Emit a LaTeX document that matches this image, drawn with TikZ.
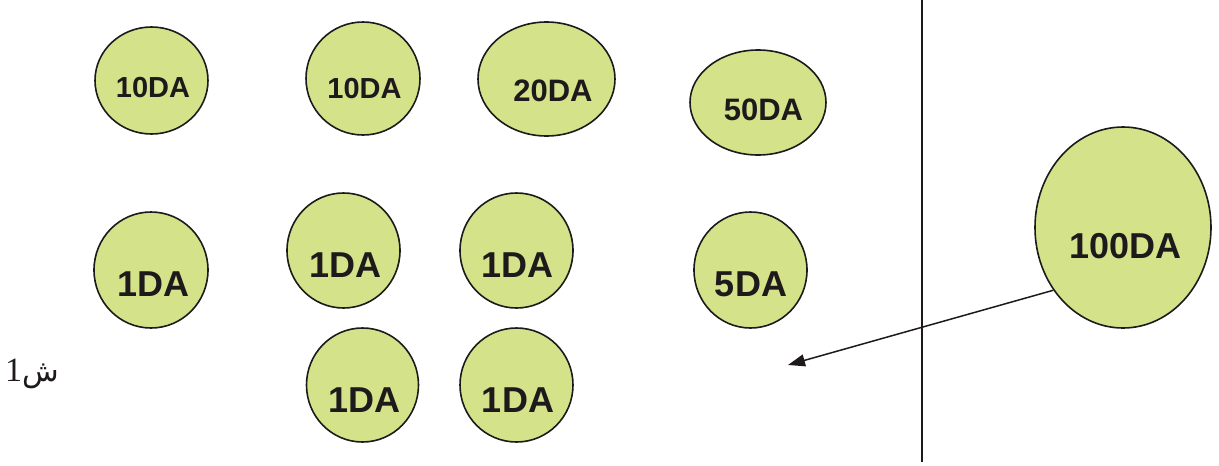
\documentclass[tikz,border=0pt]{standalone}
\usepackage{fontspec}
\usetikzlibrary{shapes.geometric,arrows.meta,calc}
\TeXXeTstate=1
\newfontfamily\coinfont{Liberation Sans}
\newfontfamily\arabicfont[Script=Arabic]{DejaVu Sans}
\newfontfamily\seriffont{Liberation Serif}
\definecolor{coinfill}{RGB}{212,226,138}
\definecolor{inkc}{RGB}{30,26,27}
\tikzset{
  coin/.style={ellipse, draw=inkc, line width=1.6pt, fill=coinfill, inner sep=0pt},
  val/.style={inner sep=0pt, text=inkc, font=\coinfont\bfseries\fontsize{#1}{#1}\selectfont},
  conn/.style={draw=inkc, line width=1.5pt},
  arrowc/.style={draw=inkc, line width=1.5pt, -{Triangle[length=17pt,width=12pt]}}
}
\begin{document}
\begin{tikzpicture}[x=1pt,y=-1pt]
\useasboundingbox (0,0) rectangle (1219,466);
% coins
\node[coin, minimum width=113pt, minimum height=107pt] (c1) at (151.5,80.5) {};
\node[val=29] (t1) at (153,88) {10DA};
\node[coin, minimum width=114pt, minimum height=113pt] (c2) at (363,78.5) {};
\node[val=29] (t2) at (364.5,88.5) {10DA};
\node[coin, minimum width=137pt, minimum height=114pt] (c3) at (546.5,79) {};
\node[val=31] (t3) at (553,91) {20DA};
\node[coin, minimum width=136pt, minimum height=105pt] (c4) at (758,102.5) {};
\node[val=31] (t4) at (763.5,109.5) {50DA};
\node[coin, minimum width=114pt, minimum height=116pt] (c5) at (151,270) {};
\node[val=36] (t5) at (153.5,284.5) {1DA};
\node[coin, minimum width=113pt, minimum height=115pt] (c6) at (343.5,250.5) {};
\node[val=36] (t6) at (345.5,265.5) {1DA};
\node[coin, minimum width=113pt, minimum height=115pt] (c7) at (516.5,250.5) {};
\node[val=36] (t7) at (517.5,265.5) {1DA};
\node[coin, minimum width=113pt, minimum height=116pt] (c8) at (750.5,270) {};
\node[val=36] (t8) at (751,284.5) {5DA};
\node[coin, minimum width=176pt, minimum height=201pt] (c9) at (1123,227.5) {};
\node[val=36] (t9) at (1125.5,246) {100DA};
\node[coin, minimum width=112pt, minimum height=114pt] (c10) at (362.5,385) {};
\node[val=36] (t10) at (364.5,400) {1DA};
\node[coin, minimum width=113pt, minimum height=114pt] (c11) at (516.5,385) {};
\node[val=36] (t11) at (518,400) {1DA};
% divider
\coordinate (vtop) at (922,0);
\coordinate (vbot) at (922,462);
\draw[conn] (vtop) -- (vbot);
% arrow
\coordinate (tip) at (788,365);
\draw[arrowc] (c9.222.6) -- (tip);
% label
\node[inner sep=0pt, text=inkc] (lab) at (32,374) {\beginR{\arabicfont\fontsize{30}{30}\selectfont ش}{\seriffont\fontsize{34}{34}\selectfont 1}\endR};
\end{tikzpicture}
\end{document}
